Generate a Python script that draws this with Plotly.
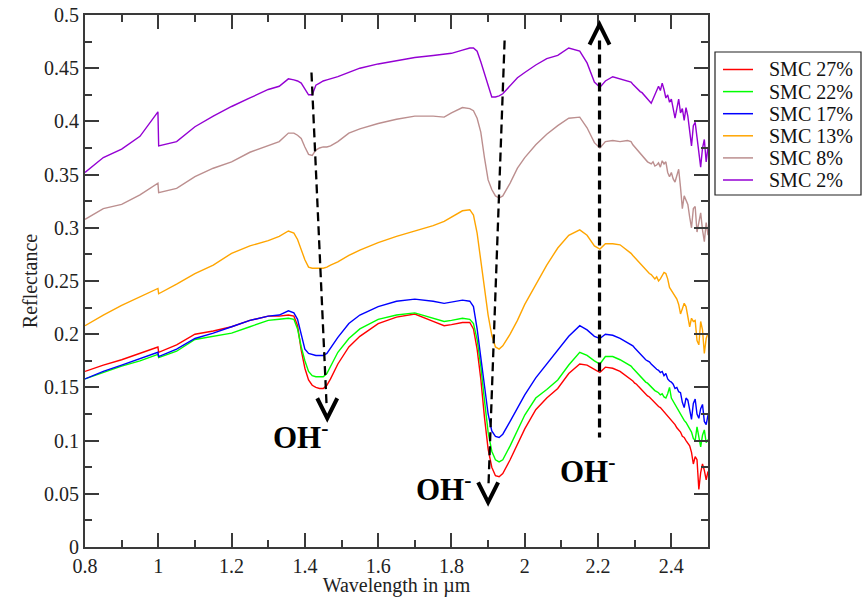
import plotly.graph_objects as go

# ---------------- data ----------------
WL_MAIN = [0.80, 0.85, 0.90, 0.95, 0.999, 1.001, 1.05, 1.10, 1.15, 1.20,
           1.25, 1.30, 1.33, 1.355, 1.37, 1.38, 1.39, 1.40, 1.41, 1.42,
           1.43, 1.44, 1.45, 1.46, 1.47, 1.49, 1.52, 1.55, 1.60, 1.65,
           1.70, 1.75, 1.78, 1.80, 1.83, 1.85, 1.86, 1.87, 1.88, 1.89,
           1.90, 1.91, 1.92, 1.93, 1.94, 1.96, 1.98, 2.00, 2.03, 2.06,
           2.09, 2.12, 2.15, 2.17, 2.19, 2.205, 2.22, 2.24, 2.26, 2.28]
WL_NOISY = [2.290, 2.295, 2.300, 2.305, 2.310, 2.315, 2.320, 2.325, 2.330, 2.335,
            2.340, 2.345, 2.350, 2.355, 2.360, 2.365, 2.370, 2.375, 2.380, 2.385,
            2.390, 2.395, 2.400, 2.405, 2.410, 2.415, 2.420, 2.425, 2.430, 2.435,
            2.440, 2.445, 2.450, 2.455, 2.460, 2.465, 2.470, 2.475, 2.480, 2.485,
            2.490, 2.495, 2.500]
WAVELENGTH = WL_MAIN + WL_NOISY

SMC_27 = [0.165, 0.171, 0.176, 0.182, 0.188, 0.183, 0.190, 0.200, 0.203, 0.207,
          0.213, 0.217, 0.217, 0.218, 0.217, 0.208, 0.185, 0.168, 0.157, 0.152,
          0.150, 0.149, 0.149, 0.152, 0.158, 0.172, 0.188, 0.198, 0.210, 0.216,
          0.219, 0.212, 0.208, 0.209, 0.211, 0.211, 0.205, 0.186, 0.158, 0.122,
          0.092, 0.075, 0.067, 0.066, 0.069, 0.082, 0.097, 0.111, 0.129, 0.140,
          0.149, 0.163, 0.172, 0.171, 0.167, 0.164, 0.169, 0.168, 0.165, 0.160,
          0.158, 0.156, 0.154, 0.153, 0.151, 0.149, 0.147, 0.146, 0.144, 0.142,
          0.141, 0.139, 0.137, 0.135, 0.134, 0.132, 0.131, 0.129, 0.128, 0.126,
          0.124, 0.122, 0.119, 0.118, 0.115, 0.112, 0.110, 0.108, 0.104, 0.103,
          0.100, 0.097, 0.095, 0.089, 0.078, 0.085, 0.082, 0.054, 0.070, 0.078,
          0.072, 0.063, 0.071]
SMC_22 = [0.158, 0.164, 0.170, 0.175, 0.181, 0.178, 0.184, 0.195, 0.198, 0.201,
          0.207, 0.213, 0.214, 0.215, 0.214, 0.205, 0.188, 0.175, 0.165, 0.161,
          0.160, 0.160, 0.160, 0.163, 0.170, 0.183, 0.196, 0.205, 0.214, 0.218,
          0.220, 0.215, 0.212, 0.213, 0.215, 0.214, 0.210, 0.195, 0.170, 0.138,
          0.108, 0.090, 0.082, 0.080, 0.082, 0.095, 0.110, 0.124, 0.140, 0.148,
          0.157, 0.171, 0.183, 0.180, 0.175, 0.172, 0.179, 0.179, 0.176, 0.172,
          0.170, 0.168, 0.166, 0.165, 0.163, 0.161, 0.159, 0.157, 0.155, 0.154,
          0.152, 0.150, 0.148, 0.147, 0.146, 0.145, 0.143, 0.144, 0.141, 0.140,
          0.144, 0.150, 0.140, 0.137, 0.134, 0.131, 0.127, 0.125, 0.121, 0.119,
          0.117, 0.114, 0.112, 0.108, 0.102, 0.100, 0.113, 0.104, 0.094, 0.105,
          0.110, 0.098, 0.101]
SMC_17 = [0.158, 0.165, 0.171, 0.177, 0.183, 0.179, 0.186, 0.196, 0.201, 0.207,
          0.213, 0.217, 0.218, 0.222, 0.220, 0.214, 0.200, 0.186, 0.182, 0.181,
          0.180, 0.180, 0.180, 0.182, 0.187, 0.197, 0.210, 0.218, 0.226, 0.231,
          0.233, 0.231, 0.229, 0.230, 0.232, 0.231, 0.226, 0.205, 0.180, 0.152,
          0.125, 0.109, 0.104, 0.103, 0.106, 0.118, 0.130, 0.143, 0.159, 0.172,
          0.185, 0.198, 0.208, 0.204, 0.198, 0.196, 0.200, 0.199, 0.196, 0.192,
          0.190, 0.189, 0.187, 0.185, 0.183, 0.181, 0.179, 0.178, 0.176, 0.175,
          0.174, 0.172, 0.170, 0.168, 0.167, 0.166, 0.164, 0.165, 0.161, 0.163,
          0.158, 0.156, 0.155, 0.153, 0.149, 0.150, 0.146, 0.145, 0.136, 0.131,
          0.140, 0.138, 0.127, 0.120, 0.135, 0.139, 0.125, 0.121, 0.130, 0.134,
          0.118, 0.115, 0.124]
SMC_13 = [0.208, 0.218, 0.227, 0.235, 0.243, 0.238, 0.247, 0.257, 0.265, 0.276,
          0.283, 0.288, 0.292, 0.297, 0.295, 0.289, 0.280, 0.270, 0.263, 0.262,
          0.262, 0.262, 0.262, 0.263, 0.265, 0.268, 0.274, 0.279, 0.286, 0.292,
          0.297, 0.302, 0.306, 0.310, 0.316, 0.317, 0.312, 0.295, 0.270, 0.245,
          0.218, 0.199, 0.188, 0.186, 0.189, 0.200, 0.213, 0.228, 0.247, 0.265,
          0.281, 0.293, 0.298, 0.293, 0.283, 0.280, 0.285, 0.285, 0.284, 0.279,
          0.276, 0.274, 0.272, 0.271, 0.268, 0.266, 0.264, 0.263, 0.261, 0.259,
          0.257, 0.256, 0.254, 0.252, 0.254, 0.250, 0.252, 0.255, 0.258, 0.257,
          0.252, 0.244, 0.241, 0.238, 0.236, 0.233, 0.228, 0.219, 0.224, 0.229,
          0.226, 0.218, 0.207, 0.215, 0.212, 0.213, 0.194, 0.190, 0.212, 0.204,
          0.182, 0.196, 0.201]
SMC_8 = [0.308, 0.318, 0.322, 0.331, 0.342, 0.333, 0.337, 0.348, 0.356, 0.362,
         0.371, 0.377, 0.381, 0.389, 0.389, 0.387, 0.384, 0.376, 0.369, 0.368,
         0.373, 0.375, 0.376, 0.376, 0.377, 0.381, 0.389, 0.393, 0.398, 0.402,
         0.405, 0.405, 0.404, 0.408, 0.413, 0.412, 0.410, 0.403, 0.390, 0.366,
         0.345, 0.336, 0.330, 0.328, 0.330, 0.342, 0.356, 0.366, 0.378, 0.388,
         0.396, 0.403, 0.404, 0.394, 0.380, 0.375, 0.381, 0.382, 0.381, 0.382,
         0.381, 0.378, 0.376, 0.373, 0.371, 0.369, 0.367, 0.366, 0.364, 0.362,
         0.361, 0.360, 0.362, 0.358, 0.359, 0.361, 0.357, 0.363, 0.360, 0.362,
         0.352, 0.348, 0.352, 0.346, 0.343, 0.350, 0.355, 0.338, 0.318, 0.330,
         0.326, 0.322, 0.310, 0.300, 0.318, 0.320, 0.296, 0.305, 0.314, 0.298,
         0.287, 0.305, 0.293]
SMC_2 = [0.352, 0.366, 0.374, 0.386, 0.409, 0.377, 0.381, 0.395, 0.405, 0.414,
         0.422, 0.430, 0.433, 0.440, 0.439, 0.438, 0.436, 0.431, 0.425, 0.425,
         0.434, 0.436, 0.438, 0.439, 0.440, 0.442, 0.446, 0.450, 0.454, 0.457,
         0.460, 0.462, 0.463, 0.464, 0.467, 0.469, 0.469, 0.466, 0.456, 0.445,
         0.432, 0.423, 0.423, 0.424, 0.426, 0.434, 0.441, 0.446, 0.453, 0.459,
         0.462, 0.469, 0.466, 0.455, 0.437, 0.432, 0.438, 0.442, 0.440, 0.438,
         0.437, 0.435, 0.433, 0.431, 0.430, 0.428, 0.427, 0.425, 0.423, 0.421,
         0.420, 0.417, 0.421, 0.425, 0.430, 0.433, 0.429, 0.436, 0.430, 0.422,
         0.425, 0.418, 0.421, 0.410, 0.403, 0.412, 0.421, 0.408, 0.412, 0.401,
         0.413, 0.405, 0.392, 0.377, 0.396, 0.399, 0.385, 0.371, 0.357, 0.375,
         0.383, 0.362, 0.376]

SERIES_NAMES = ["SMC 27%", "SMC 22%", "SMC 17%", "SMC 13%", "SMC 8%", "SMC 2%"]
SERIES_VALUES = [SMC_27, SMC_22, SMC_17, SMC_13, SMC_8, SMC_2]
SERIES_COLORS = ["#ff0000", "#00ff00", "#0000ff", "#ffa500", "#bc8f8f", "#9400d3"]

# annotation guides: (x_top, y_top, x_bottom, y_bottom)
GUIDE_LINES = [(1.418, 0.446, 1.459, 0.135),
               (1.945, 0.476, 1.901, 0.058),
               (2.204, 0.476, 2.204, 0.103)]
GUIDE_WIDTHS = [2.3, 2.3, 3.2]
CHEVRONS = [(1.461, 0.121, "down"), (1.900, 0.042, "down"), (2.204, 0.491, "up")]
OH_LABELS = [(1.387, 0.105), (1.777, 0.056), (2.170, 0.073)]

FONT = "Liberation Serif"
AXCOL = "#3a3a3a"

fig = go.Figure()
for name, vals, col in zip(SERIES_NAMES, SERIES_VALUES, SERIES_COLORS):
    fig.add_trace(go.Scatter(x=WAVELENGTH, y=vals, mode="lines", name=name,
                             line=dict(color=col, width=1.4), showlegend=False))

# dashed guides
for (x0, y0, x1, y1), w in zip(GUIDE_LINES, GUIDE_WIDTHS):
    fig.add_shape(type="line", xref="x", yref="y", x0=x0, y0=y0, x1=x1, y1=y1,
                  line=dict(color="black", width=w, dash="9px,5px"))
# chevrons
for cx, cy, d in CHEVRONS:
    p = "M-10,20 L0,0 L10,20" if d == "down" else "M-10,-20 L0,0 L10,-20"
    fig.add_shape(type="path", xref="x", yref="y", xsizemode="pixel", ysizemode="pixel",
                  xanchor=cx, yanchor=cy, path=p, fillcolor="rgba(0,0,0,0)",
                  line=dict(color="black", width=4))
for lx, ly in OH_LABELS:
    fig.add_annotation(x=lx, y=ly, xref="x", yref="y", text="<b>OH<sup>-</sup></b>",
                       showarrow=False, font=dict(family=FONT, size=31, color="black"),
                       xanchor="center", yanchor="middle")

# manual legend (pixel positions converted to paper coords)
PL, PR, PT, PB = 85, 708, 15, 547
def px2paper_x(px):
    return (px - PL) / (PR - PL)
def px2paper_y(py):
    return (PB - py) / (PB - PT)

fig.add_shape(type="rect", xref="paper", yref="paper",
              x0=px2paper_x(715), x1=px2paper_x(861), y0=px2paper_y(195), y1=px2paper_y(52),
              line=dict(color="#222", width=1.2), fillcolor="white")
for i, (name, col) in enumerate(zip(SERIES_NAMES, SERIES_COLORS)):
    ry = 69.5 + i * 22.1
    fig.add_shape(type="line", xref="paper", yref="paper",
                  x0=px2paper_x(723), x1=px2paper_x(753), y0=px2paper_y(ry), y1=px2paper_y(ry),
                  line=dict(color=col, width=1.5))
    fig.add_annotation(xref="paper", yref="paper", x=px2paper_x(767), y=px2paper_y(ry),
                       text=name, showarrow=False, xanchor="left", yanchor="middle",
                       font=dict(family=FONT, size=20, color="#111"))

axis_common = dict(showline=True, linecolor=AXCOL, linewidth=2, mirror="allticks",
                   ticks="inside", ticklen=14, tickwidth=2, tickcolor=AXCOL,
                   showgrid=False, zeroline=False, automargin=False,
                   tickfont=dict(family=FONT, size=20, color="#222"))

fig.update_xaxes(range=[0.8, 2.5], dtick=0.2, tick0=0.8,
                 minor=dict(dtick=0.1, ticks="inside", ticklen=7, tickwidth=2, tickcolor=AXCOL),
                 title=dict(text="Wavelength in µm", font=dict(family=FONT, size=20, color="#222"),
                            standoff=7),
                 **axis_common)
fig.update_yaxes(range=[0, 0.5], dtick=0.05, tick0=0,
                 minor=dict(dtick=0.025, ticks="inside", ticklen=7, tickwidth=2, tickcolor=AXCOL),
                 title=dict(text="Reflectance", font=dict(family=FONT, size=20, color="#222"),
                            standoff=1),
                 **axis_common)

fig.update_layout(width=864, height=597, margin=dict(l=85, r=156, t=15, b=50, autoexpand=False),
                  font=dict(family=FONT, size=20, color="#222"),
                  plot_bgcolor="white", paper_bgcolor="white", showlegend=False)

fig.write_html("out.html", config={"displayModeBar": False},
               post_script="document.body.style.margin='0';document.body.style.overflow='hidden';")
